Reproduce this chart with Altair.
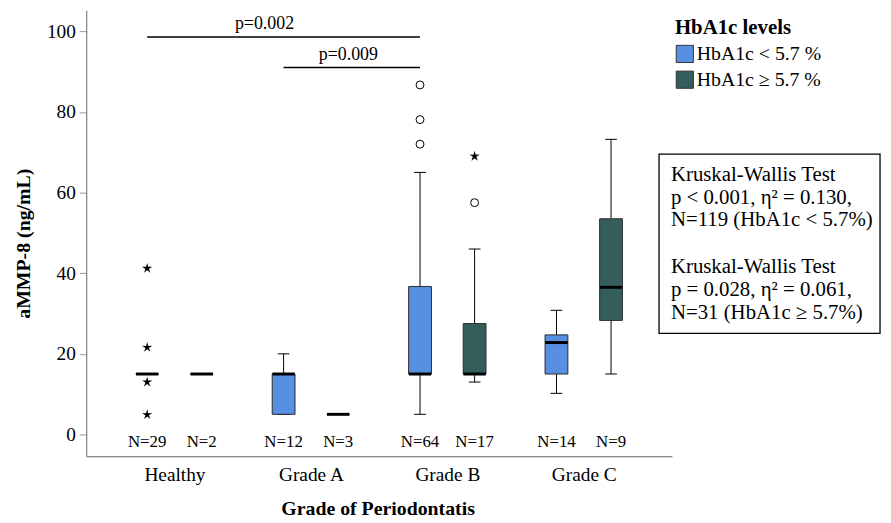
import json
import altair as alt
import pandas as pd

# ---------------- data ----------------
categories = ["Healthy", "Grade A", "Grade B", "Grade C"]
groups = ["HbA1c < 5.7 %", "HbA1c \u2265 5.7 %"]
colors = ["#5790E2", "#345E5B"]

box_cat = ["Healthy", "Healthy", "Grade A", "Grade A", "Grade B", "Grade B", "Grade C", "Grade C"]
box_grp = [0, 1, 0, 1, 0, 1, 0, 1]
box_lo = [15, 15, 5, 5, 5, 13, 10.2, 15]
box_q1 = [15, 15, 5, 5, 15, 15, 15, 28.3]
box_med = [15, 15, 15, 5, 15, 15, 22.8, 36.5]
box_q3 = [15, 15, 15, 5, 36.7, 27.5, 24.7, 53.5]
box_hi = [15, 15, 20, 5, 65, 46, 30.8, 73.2]
box_n = [29, 2, 12, 3, 64, 17, 14, 9]

out_cat = ["Healthy", "Healthy", "Healthy", "Healthy", "Grade B", "Grade B", "Grade B", "Grade B", "Grade B"]
out_grp = [0, 0, 0, 0, 0, 0, 0, 1, 1]
out_val = [41.2, 21.6, 13.0, 4.9, 86.7, 78.1, 72.0, 57.5, 69.0]
out_kind = ["star", "star", "star", "star", "circle", "circle", "circle", "circle", "star"]

sig_start = ["Healthy", "Grade A"]
sig_end = ["Grade B", "Grade B"]
sig_y = [98.6, 91.0]
sig_label = ["p=0.002", "p=0.009"]
sig_label_x = [0.66, 1.275]
sig_label_y = [101.9, 94.1]

kw_lines_low = [
    "Kruskal-Wallis Test",
    "p < 0.001, \u03b7\u00b2 = 0.130,",
    "N=119 (HbA1c < 5.7%)",
]
kw_lines_high = [
    "Kruskal-Wallis Test",
    "p = 0.028, \u03b7\u00b2 = 0.061,",
    "N=31 (HbA1c \u2265 5.7%)",
]

# ---------------- layout constants ----------------
DODGE = 0.2
BOX_HALF = 0.082
CAP_HALF = 0.043
FONT = "Liberation Serif"


def pos_of(cat, g):
    return categories.index(cat) + (-DODGE if g == 0 else DODGE)


boxes = pd.DataFrame({
    "cat": box_cat,
    "grp": [groups[g] for g in box_grp],
    "pos": [pos_of(c, g) for c, g in zip(box_cat, box_grp)],
    "lo": box_lo, "q1": box_q1, "med": box_med, "q3": box_q3, "hi": box_hi, "n": box_n,
})

outliers = pd.DataFrame({
    "pos": [pos_of(c, g) for c, g in zip(out_cat, out_grp)],
    "val": out_val,
    "kind": out_kind,
})

sig = pd.DataFrame({
    "x0": [pos_of(c, 0) for c in sig_start],
    "x1": [pos_of(c, 0) for c in sig_end],
    "y": sig_y,
    "label": sig_label,
    "tx": sig_label_x,
    "ty": sig_label_y,
})

xscale = alt.Scale(domain=[-0.61, 3.61], nice=False, zero=False)
yscale = alt.Scale(domain=[-5.4, 105.2], nice=False, zero=False)

label_expr = json.dumps(categories) + "[datum.value]"

xaxis = alt.Axis(
    values=[0, 1, 2, 3], labelExpr=label_expr, ticks=False, tickSize=0, grid=False,
    title="Grade of Periodontatis", labelFont=FONT, labelFontSize=19.5, labelColor="black",
    labelPadding=9, labelBaseline="top", domainColor="#666666",
    titleFont=FONT, titleFontSize=20, titleFontWeight="bold", titleColor="black",
    titleX=294, titleY=53, titleBaseline="middle", titleAlign="center",
)
yaxis = alt.Axis(
    values=[0, 20, 40, 60, 80, 100], grid=False, title="aMMP-8 (ng/mL)",
    labelFont=FONT, labelFontSize=19.5, labelColor="black", labelPadding=4,
    tickSize=7, tickColor="#999999", domainColor="#666666",
    titleFont=FONT, titleFontSize=20, titleFontWeight="bold", titleColor="black",
    titleX=-63, titleY=235, titleBaseline="middle", titleAlign="center", titleAngle=270,
)

base = alt.Chart(boxes)

whisk_low = base.mark_rule(color="black", strokeWidth=1).encode(
    x=alt.X("pos:Q", scale=xscale, axis=xaxis),
    y=alt.Y("lo:Q", scale=yscale, axis=yaxis),
    y2="q1:Q",
)
whisk_hi = base.mark_rule(color="black", strokeWidth=1).encode(
    x="pos:Q", y="q3:Q", y2="hi:Q"
)
caps = base.transform_fold(["lo", "hi"], as_=["end", "val"]).transform_calculate(
    xa=f"datum.pos - {CAP_HALF}", xb=f"datum.pos + {CAP_HALF}"
).mark_rule(color="black", strokeWidth=1).encode(
    x="xa:Q", x2="xb:Q", y="val:Q"
)
bars = base.mark_bar(size=23, stroke="#2a2a2a", strokeWidth=1, opacity=1).encode(
    x="pos:Q", y="q1:Q", y2="q3:Q",
    color=alt.Color(
        "grp:N",
        scale=alt.Scale(domain=groups, range=colors),
        legend=alt.Legend(
            title="HbA1c levels", orient="none", legendX=594, legendY=7,
            titleFont=FONT, titleFontSize=21, titleFontWeight="bold", titleColor="black",
            labelFont=FONT, labelFontSize=20, labelColor="black",
            symbolType="square", symbolSize=300, symbolStrokeColor="#333333",
            symbolStrokeWidth=1, symbolOpacity=1, labelOffset=2, rowPadding=4,
            titlePadding=6, padding=0,
        ),
    ),
)
medians = base.transform_calculate(
    xa=f"datum.pos - {BOX_HALF}", xb=f"datum.pos + {BOX_HALF}"
).mark_rule(color="black", strokeWidth=3).encode(
    x="xa:Q", x2="xb:Q", y="med:Q"
)
nlabels = base.transform_calculate(label="'N=' + datum.n").mark_text(
    font=FONT, fontSize=17, color="black", baseline="middle", align="center"
).encode(x="pos:Q", y=alt.datum(-1.8), text="label:N")

star_path = ("M0,-1L0.2,-0.28L0.951,-0.309L0.32,0.1L0.588,0.809L0,0.34"
             "L-0.588,0.809L-0.32,0.1L-0.951,-0.309L-0.2,-0.28Z")

circles = alt.Chart(outliers).transform_filter("datum.kind == 'circle'").mark_point(
    shape="circle", filled=False, size=64, color="black", strokeWidth=1, opacity=1
).encode(x="pos:Q", y="val:Q")
stars = alt.Chart(outliers).transform_filter("datum.kind == 'star'").mark_point(
    shape=star_path, filled=True, size=120, color="black", opacity=1
).encode(x="pos:Q", y="val:Q")

sig_rules = alt.Chart(sig).mark_rule(color="black", strokeWidth=1.5).encode(
    x="x0:Q", x2="x1:Q", y="y:Q"
)
sig_text = alt.Chart(sig).mark_text(
    font=FONT, fontSize=18, color="black", baseline="middle", align="center"
).encode(x="tx:Q", y="ty:Q", text="label:N")

one = pd.DataFrame({"k": [0]})
kw_box = alt.Chart(one).mark_rect(fill="transparent", stroke="black", strokeWidth=1.3).encode(
    x=alt.value(578), x2=alt.value(801), y=alt.value(145), y2=alt.value(326)
)
kw_text_low = alt.Chart(one).mark_text(
    font=FONT, fontSize=21, color="black", align="left", baseline="alphabetic", lineHeight=23
).encode(x=alt.value(590), y=alt.value(172), text=alt.value(kw_lines_low))
kw_text_high = alt.Chart(one).mark_text(
    font=FONT, fontSize=21, color="black", align="left", baseline="alphabetic", lineHeight=23
).encode(x=alt.value(590), y=alt.value(265), text=alt.value(kw_lines_high))

chart = alt.layer(
    whisk_low, whisk_hi, caps, bars, medians, nlabels, circles, stars,
    sig_rules, sig_text, kw_box, kw_text_low, kw_text_high
).properties(
    width=591, height=450,
    autosize=alt.AutoSizeParams(type="none"),
    padding={"left": 79, "top": 0, "right": 213, "bottom": 65},
    background="white",
).configure_view(stroke=None)

chart.save("out.html", embed_options={"renderer": "svg", "actions": False})
